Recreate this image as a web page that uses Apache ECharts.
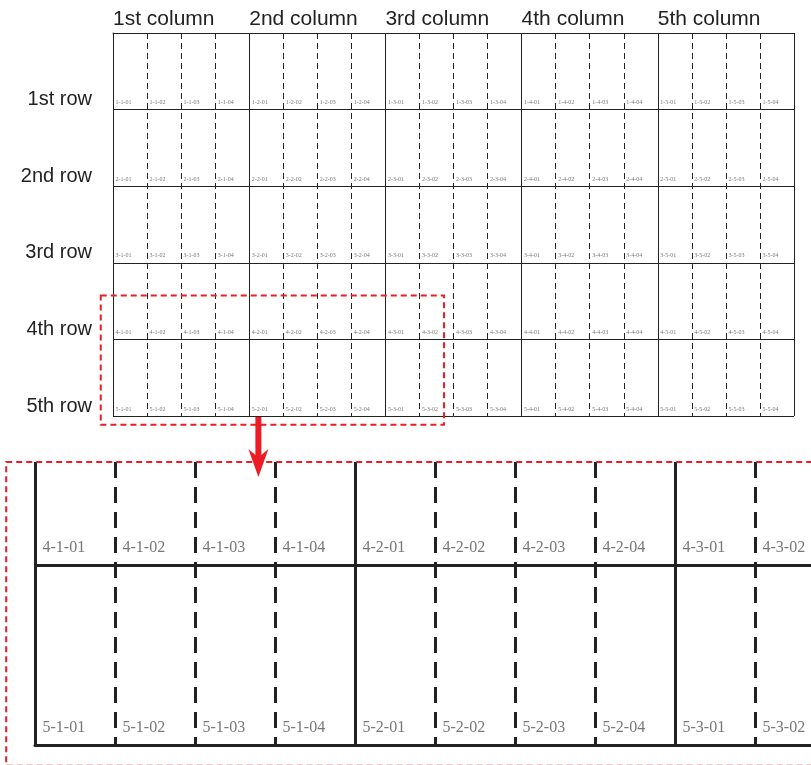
<!DOCTYPE html>
<html>
<head>
<meta charset="utf-8">
<script src="https://cdn.jsdelivr.net/npm/echarts@6/dist/echarts.min.js"></script>
<style>html,body{margin:0;padding:0;background:#fff}#main{width:811px;height:765px}</style>
</head>
<body>
<div id="main"></div>
<script>
// ---- data ----
const colNames = ['1st column', '2nd column', '3rd column', '4th column', '5th column'];
const rowNames = ['1st row', '2nd row', '3rd row', '4th row', '5th row'];
const subCodes = ['01', '02', '03', '04'];
// region of the upper grid enlarged below (sub-column units, row units)
const zoomX = [-0.36, 9.72];
const zoomY = [3.428, 5.115];
const arrowX = 4.27;

// build cell label points
const cellLabels = [];
rowNames.forEach((rn, r) => {
  colNames.forEach((cn, c) => {
    subCodes.forEach((sc, s) => {
      cellLabels.push({ name: (r + 1) + '-' + (c + 1) + '-' + sc, value: [c * subCodes.length + s, r + 1] });
    });
  });
});
const insetLabels = cellLabels.filter(d => d.value[1] >= 4);
const nSub = colNames.length * subCodes.length;

const chart = echarts.init(document.getElementById('main'), null, { renderer: 'canvas' });
const lineCol = '#222';
const red = '#ed1c24';

chart.setOption({
  animation: false,
  grid: [
    { left: 113, top: 33, width: 681, height: 383, outerBoundsMode: 'none', containLabel: false },
    { left: 35, top: 462, width: 80 * nSub, height: 283, outerBoundsMode: 'none', containLabel: false }
  ],
  xAxis: [
    {
      gridIndex: 0, type: 'value', min: 0, max: nSub, interval: subCodes.length, position: 'top',
      axisLine: { show: true, lineStyle: { color: lineCol, width: 1 } },
      axisTick: { show: false },
      axisLabel: {
        show: true, align: 'left', margin: 3, fontSize: 21, color: '#222', fontFamily: 'Liberation Sans',
        formatter: v => colNames[v / subCodes.length] || ''
      },
      splitLine: { show: true, lineStyle: { color: lineCol, width: 1 } },
      minorTick: { show: false, splitNumber: subCodes.length },
      minorSplitLine: { show: true, lineStyle: { color: lineCol, width: 1, type: [6, 4] } }
    },
    {
      gridIndex: 1, type: 'value', min: 0, max: nSub, interval: subCodes.length, position: 'bottom',
      axisLine: { show: true, onZero: false, lineStyle: { color: lineCol, width: 3 } },
      axisTick: { show: false },
      axisLabel: { show: false },
      splitLine: { show: true, lineStyle: { color: lineCol, width: 3 } },
      minorTick: { show: false, splitNumber: subCodes.length },
      minorSplitLine: { show: true, lineStyle: { color: lineCol, width: 3, type: [16, 9] } }
    }
  ],
  yAxis: [
    {
      gridIndex: 0, type: 'value', min: 0, max: rowNames.length, interval: 1, inverse: true,
      axisLine: { show: true, lineStyle: { color: lineCol, width: 1 } },
      axisTick: { show: false },
      axisLabel: {
        show: true, margin: 21, fontSize: 20, color: '#222', fontFamily: 'Liberation Sans',
        verticalAlign: 'bottom', lineHeight: 20, padding: [0, 0, 0, 0],
        formatter: v => (v >= 1 ? rowNames[v - 1] : '')
      },
      splitLine: { show: true, lineStyle: { color: lineCol, width: 1 } }
    },
    {
      gridIndex: 1, type: 'value', min: zoomY[0], max: rowNames.length, inverse: true,
      axisLine: { show: false }, axisTick: { show: false }, axisLabel: { show: false },
      splitLine: { show: false }
    }
  ],
  series: [
    {
      type: 'scatter', xAxisIndex: 0, yAxisIndex: 0, data: cellLabels,
      symbolSize: 1, itemStyle: { color: 'rgba(0,0,0,0)' }, silent: true, z: 5,
      label: {
        show: true, formatter: '{b}', position: 'right', distance: 2, offset: [0, -7],
        fontSize: 6, color: '#555', fontFamily: 'Liberation Serif'
      }
    },
    {
      type: 'scatter', xAxisIndex: 1, yAxisIndex: 1, data: insetLabels,
      symbolSize: 1, itemStyle: { color: 'rgba(0,0,0,0)' }, silent: true, z: 5,
      label: {
        show: true, formatter: '{b}', position: 'right', distance: 7, offset: [0, -17],
        fontSize: 16, color: '#555', fontFamily: 'Liberation Serif'
      },
      markLine: {
        silent: true, symbol: 'none', label: { show: false },
        lineStyle: { color: lineCol, width: 3, type: 'solid' },
        data: [{ yAxis: 4 }]
      }
    }
  ]
});

// annotation: dashed frames and arrow linking the enlarged region
const a0 = chart.convertToPixel({ gridIndex: 0 }, [zoomX[0], zoomY[0]]);
const a1 = chart.convertToPixel({ gridIndex: 0 }, [zoomX[1], zoomY[1]]);
const b0 = chart.convertToPixel({ gridIndex: 1 }, [zoomX[0], zoomY[0]]);
const b1 = chart.convertToPixel({ gridIndex: 1 }, [zoomX[1], zoomY[1]]);
const ax = chart.convertToPixel({ gridIndex: 0 }, [arrowX, rowNames.length]);
const ay0 = ax[1] + 1, tip = b0[1] + 15, head = tip - 28;
chart.setOption({
  graphic: [
    { type: 'rect', z: 10, shape: { x: a0[0], y: a0[1], width: a1[0] - a0[0], height: a1[1] - a0[1] },
      style: { fill: 'none', stroke: red, lineWidth: 2, lineDash: [6, 4] } },
    { type: 'rect', z: 10, shape: { x: b0[0], y: b0[1], width: b1[0] - b0[0], height: b1[1] - b0[1] },
      style: { fill: 'none', stroke: red, lineWidth: 2, lineDash: [6, 4] } },
    { type: 'polygon', z: 11, shape: { points: [
        [ax[0] - 3, ay0], [ax[0] + 3, ay0], [ax[0] + 3, head + 6], [ax[0] + 10, head],
        [ax[0], tip], [ax[0] - 10, head], [ax[0] - 3, head + 6]
      ] }, style: { fill: red } }
  ]
});
</script>
</body>
</html>
